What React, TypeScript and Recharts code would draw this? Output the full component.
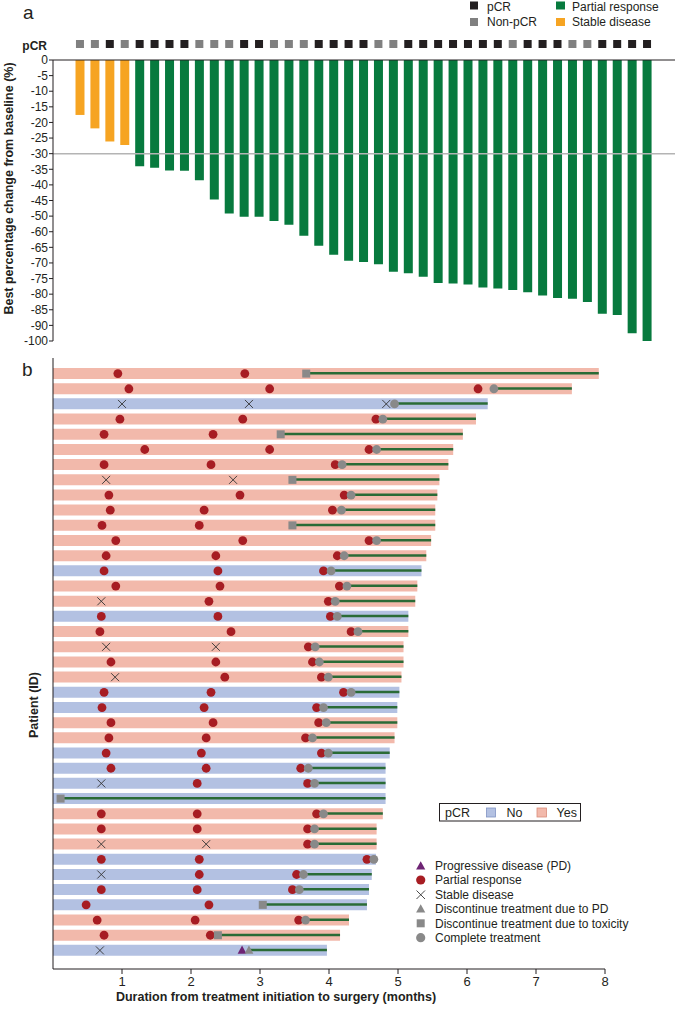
import React from "react";
import {
  BarChart,
  ComposedChart,
  Bar,
  Cell,
  XAxis,
  YAxis,
  ReferenceLine,
  Scatter,
} from "recharts";

const FONT = "'Liberation Sans', Arial, Helvetica, sans-serif";
const INK = "#231f20";

// ---------- panel a: waterfall of best % change ----------
const waterfallIds = Array.from({ length: 39 }, (_, i) => `a${i + 1}`);
// values are in the axis' evenly spaced plotting units (printed labels skip -55 and -95)
const bestChange = [
  -17.6, -21.9, -26.1, -27.2, -34.0, -34.5, -35.4, -35.5, -38.5, -44.7,
  -49.2, -50.2, -50.2, -51.6, -52.8, -56.3, -59.5, -62.4, -64.3, -64.7,
  -65.4, -67.8, -68.3, -69.4, -71.4, -71.6, -71.9, -72.9, -73.2, -73.7,
  -74.4, -75.4, -76.2, -76.5, -77.5, -81.3, -81.7, -87.5, -90.0,
];
const bestResponse =
  "SD SD SD SD PR PR PR PR PR PR PR PR PR PR PR PR PR PR PR PR PR PR PR PR PR PR PR PR PR PR PR PR PR PR PR PR PR PR PR".split(" ");
const pcrWaterfall = [
  0, 0, 1, 0, 1, 1, 1, 1, 0, 0, 0, 1, 1, 0, 0, 0, 1, 1, 1, 1,
  0, 0, 1, 1, 1, 1, 1, 1, 1, 0, 1, 1, 1, 0, 0, 1, 1, 1, 1,
];
const yTicks = [0, -5, -10, -15, -20, -25, -30, -35, -40, -45, -50, -55, -60, -65, -70, -75, -80, -85, -90];
const yTickLabels = ["0", "-5", "-10", "-15", "-20", "-25", "-30", "-35", "-40", "-45", "-50", "-60", "-65", "-70", "-75", "-80", "-85", "-90", "-100"];

// ---------- panel b: swimmer plot ----------
const swimIds = Array.from({ length: 39 }, (_, i) => `P${i + 1}`);
const duration = [
  7.91, 7.52, 6.3, 6.13, 5.94, 5.8, 5.73, 5.6, 5.57, 5.54, 5.54, 5.48, 5.41,
  5.34, 5.28, 5.25, 5.15, 5.15, 5.08, 5.08, 5.05, 5.02, 4.99, 4.99, 4.95, 4.88,
  4.82, 4.82, 4.82, 4.78, 4.69, 4.69, 4.68, 4.62, 4.58, 4.55, 4.29, 4.16, 3.97,
];
const treatEnd = [
  3.67, 6.39, 4.95, 4.78, 3.3, 4.69, 4.19, 3.47, 4.32, 4.18, 3.47, 4.69, 4.22,
  4.03, 4.26, 4.09, 4.12, 4.42, 3.8, 3.86, 3.99, 4.32, 3.92, 3.96, 3.76, 3.99,
  3.7, 3.79, 0.11, 3.92, 3.79, 3.79, 4.65, 3.63, 3.57, 3.04, 3.66, 2.39, 2.84,
];
// C = complete treatment, T = toxicity, P = progressive disease
const endReason = "T C C C T C C T C C T C C C C C C C C C C C C C C C C C T C C C C C C T C T P".split(" ");
const pcrSwimmer = [
  1, 1, 0, 1, 1, 1, 1, 1, 1, 1, 1, 1, 1, 0, 1, 1, 0, 1, 1, 1,
  1, 0, 0, 1, 1, 0, 0, 0, 0, 1, 1, 1, 0, 0, 0, 0, 1, 1, 0,
];
const partialResp: [number, number][] = [
  [1, 0.94], [1, 2.78], [2, 1.1], [2, 3.14], [2, 6.16], [4, 0.97], [4, 2.75], [4, 4.68],
  [5, 0.74], [5, 2.32], [6, 1.33], [6, 3.14], [6, 4.58], [7, 0.74], [7, 2.29], [7, 4.09],
  [9, 0.81], [9, 2.71], [9, 4.22], [10, 0.83], [10, 2.19], [10, 4.05], [11, 0.71], [11, 2.12],
  [12, 0.91], [12, 2.75], [12, 4.58], [13, 0.77], [13, 2.36], [13, 4.12], [14, 0.74], [14, 2.39],
  [14, 3.92], [15, 0.91], [15, 2.42], [15, 4.15], [16, 2.26], [16, 3.99], [17, 0.7], [17, 2.39],
  [17, 4.02], [18, 0.68], [18, 2.58], [18, 4.32], [19, 3.7], [20, 0.84], [20, 2.36], [20, 3.76],
  [21, 2.49], [21, 3.89], [22, 0.74], [22, 2.29], [22, 4.21], [23, 0.71], [23, 2.19], [23, 3.82],
  [24, 0.84], [24, 2.32], [24, 3.85], [25, 0.81], [25, 2.22], [25, 3.66], [26, 0.77], [26, 2.15],
  [26, 3.89], [27, 0.84], [27, 2.22], [27, 3.59], [28, 2.09], [28, 3.69], [30, 0.7], [30, 2.09],
  [30, 3.82], [31, 0.7], [31, 2.09], [31, 3.69], [32, 3.69], [33, 0.7], [33, 2.12], [33, 4.55],
  [34, 2.12], [34, 3.53], [35, 0.7], [35, 2.09], [35, 3.47], [36, 0.48], [36, 2.26], [37, 0.64],
  [37, 2.06], [37, 3.56], [38, 0.74], [38, 2.28],
];
const stableDis: [number, number][] = [
  [3, 1.0], [3, 2.84], [3, 4.83], [8, 0.77], [8, 2.61], [16, 0.7], [19, 0.77], [19, 2.36],
  [21, 0.9], [28, 0.7], [32, 0.7], [32, 2.22], [34, 0.7], [39, 0.68],
];
const progDis: [number, number][] = [[39, 2.74]];
const monthTicks = [1, 2, 3, 4, 5, 6, 7, 8];

const ORANGE = "#f6a422";
const GREEN = "#077a3e";
const SALMON = "#f2b9ab";
const BLUE = "#b3c1e2";
const RED = "#a71d23";
const GRAY = "#898989";
const LINE_GREEN = "#2a6b36";
const PURPLE = "#6e2474";

const waterfall = waterfallIds.map((id, i) => ({ id, change: bestChange[i] }));
const rows = swimIds.map((id, i) => ({ id, dur: duration[i], green: [treatEnd[i], duration[i]] }));
const toPts = (arr: [number, number][]) => arr.map(([row, t]) => ({ row, t }));
const endPts = (code: string) =>
  treatEnd.map((t, i) => ({ row: i + 1, t, code: endReason[i] })).filter((p) => p.code === code);

const PcrTick = (props: any) => {
  const idx = waterfallIds.indexOf(props.payload.value);
  return (
    <rect x={props.x - 4} y={props.y - 12} width={8} height={8} fill={pcrWaterfall[idx] ? INK : "#808080"} />
  );
};

const RedDot = (p: any) => <circle cx={p.cx} cy={p.cy} r={4.4} fill={RED} />;
const GrayDot = (p: any) => <circle cx={p.cx} cy={p.cy} r={4.4} fill={GRAY} />;
const GraySquare = (p: any) => <rect x={p.cx - 4} y={p.cy - 4} width={8} height={8} fill={GRAY} />;
const tri = (fill: string) => (p: any) => (
  <polygon points={`${p.cx},${p.cy - 4.8} ${p.cx + 4.4},${p.cy + 3.4} ${p.cx - 4.4},${p.cy + 3.4}`} fill={fill} />
);
const Cross = (p: any) => (
  <g stroke="#333" strokeWidth={0.9}>
    <line x1={p.cx - 4} y1={p.cy - 4} x2={p.cx + 4} y2={p.cy + 4} />
    <line x1={p.cx - 4} y1={p.cy + 4} x2={p.cx + 4} y2={p.cy - 4} />
  </g>
);

export default function App() {
  const pad = { top: 8, bottom: 11 };
  return (
    <div style={{ position: "relative", width: 675, height: 1010, fontFamily: FONT, background: "#fff" }}>
      <style>{`body{margin:0}`}</style>

      <div style={{ position: "absolute", left: 0, top: 0 }}>
        <BarChart width={675} height={350} data={waterfall} margin={{ top: 0, right: 0, bottom: 9, left: 0 }}>
          <XAxis
            dataKey="id"
            orientation="top"
            height={60}
            interval={0}
            tickLine={false}
            axisLine={{ stroke: INK }}
            tick={<PcrTick />}
            padding={{ left: 19.5, right: 20.5 }}
          />
          <YAxis
            type="number"
            domain={[-90, 0]}
            ticks={yTicks}
            interval={0}
            width={53}
            tickSize={4}
            tickMargin={1}
            axisLine={{ stroke: INK }}
            tickLine={{ stroke: INK }}
            tick={{ fontSize: 12, fill: INK }}
            tickFormatter={(v: number) => yTickLabels[Math.round(-v / 5)]}
          />
          <Bar dataKey="change" barSize={9} isAnimationActive={false}>
            {waterfall.map((d, i) => (
              <Cell key={d.id} fill={bestResponse[i] === "SD" ? ORANGE : GREEN} />
            ))}
          </Bar>
          <ReferenceLine y={-30} stroke="#b4b4b4" strokeWidth={1.5} />
        </BarChart>
      </div>

      <div style={{ position: "absolute", left: 0, top: 340 }}>
        <ComposedChart
          layout="vertical"
          width={675}
          height={670}
          data={rows}
          margin={{ top: 18, right: 70, bottom: 0, left: 0 }}
        >
          <XAxis
            type="number"
            dataKey="t"
            domain={[0, 8]}
            allowDataOverflow
            ticks={monthTicks}
            interval={0}
            height={41}
            tickSize={5}
            tickMargin={3}
            axisLine={{ stroke: INK }}
            tickLine={{ stroke: INK }}
            tick={{ fontSize: 13, fill: INK }}
          />
          <YAxis
            type="category"
            dataKey="id"
            width={53}
            tick={false}
            tickLine={false}
            axisLine={{ stroke: INK }}
            padding={pad}
          />
          <YAxis yAxisId="g" type="category" dataKey="id" hide padding={pad} />
          <YAxis
            yAxisId="s"
            type="number"
            dataKey="row"
            domain={[0.5, 39.5]}
            allowDataOverflow
            hide
            padding={pad}
          />
          <Bar dataKey="dur" barSize={11} isAnimationActive={false}>
            {rows.map((r, i) => (
              <Cell key={r.id} fill={pcrSwimmer[i] ? SALMON : BLUE} />
            ))}
          </Bar>
          <Bar yAxisId="g" dataKey="green" barSize={2.5} fill={LINE_GREEN} isAnimationActive={false} />
          <Scatter yAxisId="s" data={toPts(partialResp)} shape={RedDot} isAnimationActive={false} />
          <Scatter yAxisId="s" data={toPts(stableDis)} shape={Cross} isAnimationActive={false} />
          <Scatter yAxisId="s" data={toPts(progDis)} shape={tri(PURPLE)} isAnimationActive={false} />
          <Scatter yAxisId="s" data={endPts("C")} shape={GrayDot} isAnimationActive={false} />
          <Scatter yAxisId="s" data={endPts("T")} shape={GraySquare} isAnimationActive={false} />
          <Scatter yAxisId="s" data={endPts("P")} shape={tri(GRAY)} isAnimationActive={false} />
        </ComposedChart>
      </div>

      <svg
        width={675}
        height={1010}
        style={{ position: "absolute", left: 0, top: 0, pointerEvents: "none" }}
        fontFamily={FONT}
        fill={INK}
      >
        <text x={23} y={19} fontSize={19}>a</text>
        <text x={22} y={376} fontSize={19}>b</text>

        {/* panel a legend */}
        <rect x={470} y={1.5} width={8} height={8} fill={INK} />
        <text x={487} y={10.5} fontSize={12}>pCR</text>
        <rect x={470} y={18} width={8} height={8} fill="#808080" />
        <text x={487} y={26} fontSize={12}>Non-pCR</text>
        <rect x={556} y={1.5} width={9} height={8} fill={GREEN} />
        <text x={572} y={10.5} fontSize={12}>Partial response</text>
        <rect x={556} y={18} width={9} height={8} fill={ORANGE} />
        <text x={572} y={26} fontSize={12}>Stable disease</text>

        <text x={47} y={50} fontSize={12} fontWeight="bold" textAnchor="end">pCR</text>
        <text transform="translate(13,188.5) rotate(-90)" fontSize={12.5} fontWeight="bold" textAnchor="middle">
          Best percentage change from baseline (%)
        </text>

        {/* panel b */}
        <text transform="translate(38,705) rotate(-90)" fontSize={12.5} fontWeight="bold" textAnchor="middle">
          Patient (ID)
        </text>
        <text x={276} y={1001} fontSize={12.5} fontWeight="bold" textAnchor="middle">
          Duration from treatment initiation to surgery (months)
        </text>

        <rect x={439.5} y={803.5} width={141} height={17.5} fill="#fff" stroke={INK} strokeWidth={1} />
        <text x={445} y={817} fontSize={12.5}>pCR</text>
        <rect x={486.5} y={808} width={9} height={9} fill={BLUE} stroke="#8093c4" strokeWidth={0.8} />
        <text x={506.5} y={817} fontSize={12.5}>No</text>
        <rect x={537} y={808} width={9.5} height={9} fill={SALMON} stroke="#d98d7c" strokeWidth={0.8} />
        <text x={556.5} y={817} fontSize={12.5}>Yes</text>

        <g transform="translate(420.7,866)">
          <polygon points="0,-4.8 4.6,3.6 -4.6,3.6" fill={PURPLE} />
        </g>
        <circle cx={420.7} cy={880} r={4.6} fill={RED} />
        <g stroke="#333" strokeWidth={0.9}>
          <line x1={416.5} y1={890.5} x2={425} y2={899} />
          <line x1={416.5} y1={899} x2={425} y2={890.5} />
        </g>
        <g transform="translate(420.7,909)">
          <polygon points="0,-4.8 4.6,3.6 -4.6,3.6" fill={GRAY} />
        </g>
        <rect x={416.7} y={919.3} width={8} height={8} fill={GRAY} />
        <circle cx={420.7} cy={937.7} r={4.6} fill={GRAY} />
        <text x={435} y={870} fontSize={12}>Progressive disease (PD)</text>
        <text x={435} y={884.3} fontSize={12}>Partial response</text>
        <text x={435} y={899} fontSize={12}>Stable disease</text>
        <text x={435} y={913.3} fontSize={12}>Discontinue treatment due to PD</text>
        <text x={435} y={927.6} fontSize={12}>Discontinue treatment due to toxicity</text>
        <text x={435} y={942} fontSize={12}>Complete treatment</text>
      </svg>
    </div>
  );
}
